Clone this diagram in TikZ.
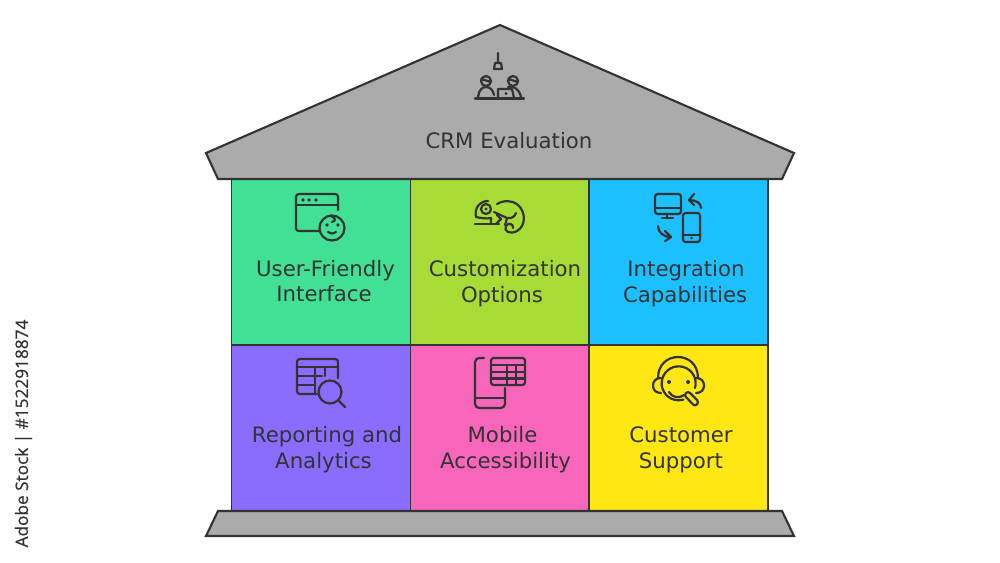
\documentclass[tikz,border=0pt]{standalone}
\usepackage{fontspec}
\setmainfont{DejaVu Sans}
\newfontfamily\stockfont[FakeBold=0.6]{Open Sans}
\usetikzlibrary{positioning}
\definecolor{roofgray}{HTML}{ABABAB}
\definecolor{inkgray}{HTML}{333333}
\definecolor{cellgreen}{HTML}{42E095}
\definecolor{celllime}{HTML}{A6DC35}
\definecolor{cellblue}{HTML}{1CC0FF}
\definecolor{cellpurple}{HTML}{8A6CFF}
\definecolor{cellpink}{HTML}{F866BC}
\definecolor{cellyellow}{HTML}{FFE713}
\tikzset{
	cell/.style={draw=inkgray, line width=1.1pt, minimum width=3.58cm, minimum height=3.32cm, outer sep=0pt, inner sep=0pt},
	celltext/.style={text=inkgray, font=\fontsize{12.1}{14.7}\selectfont, align=center, inner sep=0pt},
	stone/.style={draw=inkgray, line width=1.2pt, fill=roofgray, line join=miter},
	iconline/.style={draw=inkgray, line width=1.25pt, line cap=round, line join=round}
}
\begin{document}
\begin{tikzpicture}[x=0.02cm, y=-0.02cm]
	\useasboundingbox (0,0) rectangle (1000,562);

	% columns
	\node [cell, fill=cellgreen] (uf) at (321,262) {};
	\node [cell, fill=celllime, right of=uf, node distance=3.58cm] (co) {};
	\node [cell, fill=cellblue, right of=co, node distance=3.58cm] (ic) {};
	\node [cell, fill=cellpurple, below of=uf, node distance=3.32cm] (ra) {};
	\node [cell, fill=cellpink, right of=ra, node distance=3.58cm] (ma) {};
	\node [cell, fill=cellyellow, right of=ma, node distance=3.58cm] (cs) {};

	% roof and floor
	\draw [stone] (500,25) -- (794,153) -- (782,179) -- (218,179) -- (206,153) -- cycle;
	\draw [stone] (218,511) -- (782,511) -- (794,536) -- (206,536) -- cycle;

	% texts
	\node [celltext] (crm) at (509,141) {CRM Evaluation};
	\node [celltext] (ufl) at (325.5,281) {User-Friendly\\Interface\hspace*{1.7pt}};
	\node [celltext] (col) at (505,283.5) {Customization\\Options\hspace*{3.4pt}};
	\node [celltext] (icl) at (686,283.5) {Integration\\Capabilities\hspace*{1pt}};
	\node [celltext] (ral) at (327,449.5) {Reporting and\\Analytics\hspace*{4pt}};
	\node [celltext] (mal) at (505.5,449.5) {Mobile\hspace*{3.4pt}\\Accessibility};
	\node [celltext] (csl) at (681,449.5) {Customer\\Support};
	\node [rotate=90, text=inkgray, inner sep=0pt, font=\stockfont\fontsize{9.8}{11}\selectfont] (stock) at (23.5,433.5) {Adobe Stock | \#1522918874};

	% roof icon
	\draw [iconline] (498,53) -- (498,63) (495,63) -- (501,63) -- (502,69) -- (494,69) -- cycle;
	\draw [iconline] (486,81) circle (5) (481,79) -- (491,82);
	\draw [iconline] (513,81) circle (5) (508,79) -- (518,82);
	\draw [iconline] (478,97) .. controls (479,90) and (482,87) .. (486,87) .. controls (490,87) and (493,90) .. (494,95);
	\draw [iconline] (508,87) .. controls (513,86) and (519,88) .. (521,97);
	\draw [iconline] (498,98) -- (498,89) -- (512,89) -- (514,98);
	\fill [inkgray] (506,93.5) circle (1.6);
	\draw [iconline] (475,98.5) -- (524,98.5);

	% window with face
	\draw [iconline] (338,210) -- (338,197) .. controls (338,195) and (337,194) .. (335,194) -- (299,194) .. controls (297,194) and (296,195) .. (296,197) -- (296,228) .. controls (296,230) and (297,231) .. (299,231) -- (319,231);
	\draw [iconline] (296,205) -- (338,205);
	\foreach \dotx in {303,309,316} \fill [inkgray] (\dotx,200) circle (1.8);
	\draw [iconline] (332,228) circle (12.5);
	\fill [inkgray] (327,225) circle (1.8) (338,225) circle (1.8);
	\draw [iconline] (328,232) .. controls (330,234) and (333,234) .. (336,232);
	\draw [iconline] (330,215.5) .. controls (335,217) and (337,221) .. (332,222);

	% chameleon
	\draw [iconline] (486,209) circle (5);
	\fill [inkgray] (486,209) circle (1.6);
	\draw [iconline] (488,201) .. controls (480,201) and (474,208) .. (476,217) .. controls (481,218) and (486,219) .. (491,218);
	\draw [iconline] (497,204) .. controls (504,200) and (512,200) .. (518,205) .. controls (526,212) and (526,226) .. (517,231) .. controls (510,235) and (503,231) .. (506,226) .. controls (508,222) and (514,224) .. (513,228);
	\draw [iconline] (494,212) -- (507,218) .. controls (512,219) and (515,216) .. (516,213);
	\draw [iconline] (507,218) .. controls (507,221) and (505,223) .. (505,225);
	\draw [iconline] (475,224) -- (499,224);
	\draw [iconline] (491,218) -- (491,224) (497,215) -- (501,219) -- (496,224);

	% devices
	\draw [iconline, rounded corners=1.5] (655,194) rectangle (681,214);
	\draw [iconline] (655,208) -- (681,208) (667,214) -- (667,218) (662,218) -- (673,218);
	\draw [iconline, rounded corners=1.5] (683,213) rectangle (700,242);
	\draw [iconline] (683,235) -- (700,235);
	\fill [inkgray] (691.5,238) circle (1.5);
	\draw [iconline] (701,208) .. controls (701,203) and (696,200) .. (689,200) (694,194) -- (689,200) -- (694,205);
	\draw [iconline] (658,226) .. controls (658,232) and (663,237) .. (671,237) (665,231) -- (671,237) -- (665,241);

	% table with lens
	\draw [iconline] (338,378) -- (338,362) .. controls (338,360) and (337,359) .. (335,359) -- (300,359) .. controls (298,359) and (297,360) .. (297,362) -- (297,391) .. controls (297,393) and (298,394) .. (300,394) -- (317,394);
	\draw [iconline] (297,367) -- (338,367) (297,376) -- (322,376) (297,385) -- (315,385) (315,367) -- (315,394) (325,367) -- (325,376);
	\draw [iconline] (330,392) circle (11.5);
	\draw [iconline] (338,400) -- (345,407);

	% phone with table
	\draw [iconline] (484,358) -- (479,358) .. controls (477,358) and (475,360) .. (475,362) -- (475,404) .. controls (475,406) and (477,408) .. (479,408) -- (501,408) .. controls (503,408) and (505,406) .. (505,404) -- (505,388);
	\draw [iconline] (475,398) -- (505,398);
	\draw [iconline, rounded corners=1.5] (491,358) rectangle (525,385);
	\draw [iconline] (491,365) -- (525,365) (491,372) -- (525,372) (491,378.5) -- (525,378.5) (507,365) -- (507,385) (516,365) -- (516,385);

	% headset
	\draw [iconline] (658,378) .. controls (658,350) and (698,350) .. (698,378);
	\draw [iconline] (695,388) arc [start angle=16, end angle=-286, radius=17];
	\draw [iconline] (661,378) .. controls (656,378) and (653,381) .. (653,385.5) .. controls (653,390) and (656,393) .. (661,393);
	\draw [iconline] (696,378) .. controls (701,378) and (704,381) .. (704,385.5) .. controls (704,390) and (701,393) .. (696,393);
	\fill [inkgray] (669,382) circle (2) (688,382) circle (2);
	\draw [iconline] (669,392) .. controls (672,397) and (678,399) .. (684,395);
	\draw [iconline, rounded corners=1.5] (684,395) -- (688,391) -- (699,402) -- (695,406.5) -- cycle;
\end{tikzpicture}
\end{document}
